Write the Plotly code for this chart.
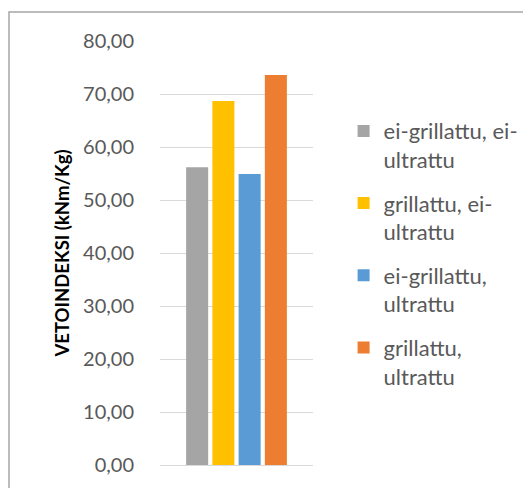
import plotly.graph_objects as go

# values
groups = ["ei-grillattu, ei-<br>ultrattu",
          "grillattu, ei-<br>ultrattu",
          "ei-grillattu,<br>ultrattu",
          "grillattu,<br>ultrattu"]
vetoindeksi = [56.2, 68.7, 54.9, 73.6]
colors = ["#A5A5A5", "#FFC000", "#5B9BD5", "#ED7D31"]

FONT = "Lato"

fig = go.Figure()
for i, (name, val) in enumerate(zip(groups, vetoindeksi)):
    fig.add_trace(go.Bar(
        x=[""], y=[val], name=name,
        marker=dict(color=colors[i], line=dict(width=0)),
        legendgroup=str(i),
    ))

# page body has an 8px margin, so the figure is 8px smaller and shifted
fig.update_layout(
    width=523, height=480,
    margin=dict(l=152, r=218, t=33, b=23, autoexpand=False),
    paper_bgcolor="white", plot_bgcolor="white",
    barmode="group", bargap=0.314, bargroupgap=0.16,
    separators=", ",
    showlegend=True,
    legend=dict(
        x=1.20, xanchor="left", y=0.837, yanchor="top",
        font=dict(family=FONT, size=22, color="#595959"),
        valign="top", tracegroupgap=12,
        itemwidth=30,
    ),
    font=dict(family=FONT),
)

fig.update_yaxes(
    range=[0, 80], dtick=10, tickformat=".2f",
    showgrid=True, gridcolor="#d9d9d9", gridwidth=1,
    zeroline=True, zerolinecolor="#d9d9d9", zerolinewidth=1,
    showline=False, ticks="", automargin=False,
    tickfont=dict(family=FONT, size=20, color="#595959"),
    ticklabelstandoff=25,
    title=dict(text="<b>VETOINDEKSI (kNm/Kg)</b>",
               font=dict(family=FONT, size=18.5, color="black"),
               standoff=8),
)
fig.update_xaxes(showticklabels=False, showgrid=False, showline=False,
                 ticks="", zeroline=False, automargin=False)

# chart-area border (extends off the right and bottom edges)
fig.add_shape(type="rect", xref="paper", yref="paper",
              x0=(1 - 152) / 153, x1=(540 - 152) / 153,
              y0=(457 - 500) / 424, y1=(457 - 4) / 424,
              line=dict(color="#a6a6a6", width=1.5), layer="below")

fig.write_html("out.html")
